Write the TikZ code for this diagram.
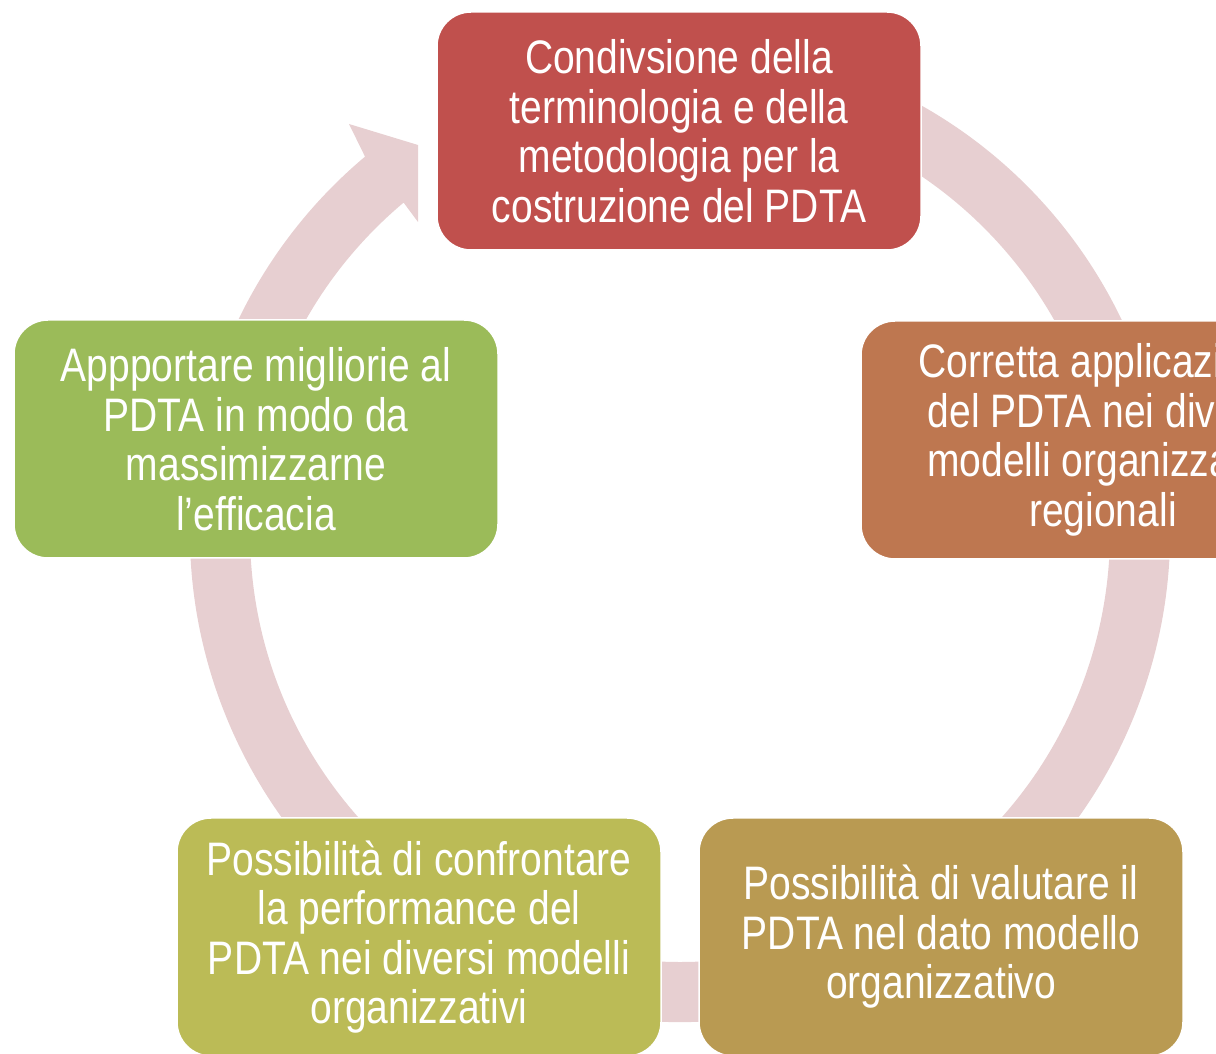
\documentclass[tikz,border=0pt]{standalone}
\usepackage{fontspec}
\setmainfont{Liberation Sans}[FakeStretch=0.83]
\usepackage{xcolor}
\usepackage{tikz}
\definecolor{ringpink}{RGB}{231,207,209}
\definecolor{stagered}{RGB}{192,80,77}
\definecolor{stageorange}{RGB}{190,119,80}
\definecolor{stagegreen}{RGB}{155,187,89}
\definecolor{stageolive}{RGB}{187,187,86}
\definecolor{stagetan}{RGB}{185,154,82}
\tikzstyle{stage} = [rectangle, rounded corners=34pt, minimum width=484pt, minimum height=238pt, inner sep=0pt, align=center, draw=white, line width=1.5pt, text=white, font=\fontsize{47}{49.5}\selectfont]
\tikzstyle{ring} = [fill=ringpink]

\begin{document}
\begin{tikzpicture}[x=1pt, y=1pt]
\useasboundingbox (0,0) rectangle (1216,1053);
\coordinate (hub) at (680,521);

% circular arrow behind the stages
\fill[ring] ([shift={(hub)}]70:490pt) arc[start angle=70, end angle=-230, radius=490pt]
  -- (349,929) -- (418,908) -- (418,831)
  -- ([shift={(hub)}]-230:430pt) arc[start angle=-230, end angle=70, radius=430pt] -- cycle;

\node (terminologia) [stage, fill=stagered] at (679,922) {Condivsione della\\terminologia e della\\metodologia per la\\costruzione del PDTA};
\node (applicazione) [stage, fill=stageorange] at (1103,613) {Corretta applicazione\\del PDTA nei diversi\\modelli organizzativi\\regionali};
\node (valutazione) [stage, fill=stagetan] at (941,116) {Possibilità di valutare il\\PDTA nel dato modello\\organizzativo};
\node (confronto) [stage, fill=stageolive] at (419,116) {Possibilità di confrontare\\la performance del\\PDTA nei diversi modelli\\organizzativi};
\node (migliorie) [stage, fill=stagegreen] at (256,614) {Appportare migliorie al\\PDTA in modo da\\massimizzarne\\l'efficacia};

\end{tikzpicture}
\end{document}
